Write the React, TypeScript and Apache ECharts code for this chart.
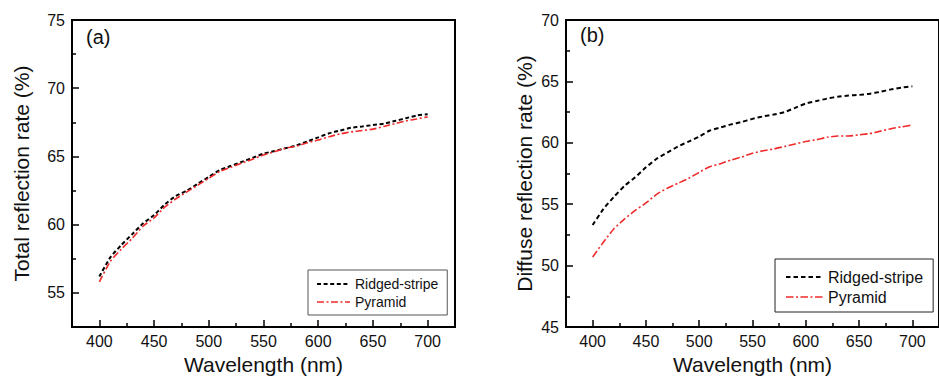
import React, { useEffect, useRef } from "react";
import * as echarts from "echarts";

const wavelengths = [400, 410, 420, 430, 440, 450, 460, 470, 480, 490, 500, 510, 520, 530, 540, 550, 560, 570, 580, 590, 600, 610, 620, 630, 640, 650, 660, 670, 680, 690, 700];

const ridgedTotal = [56.2, 57.6, 58.5, 59.3, 60.1, 60.7, 61.5, 62.1, 62.5, 63.0, 63.5, 64.0, 64.3, 64.6, 64.9, 65.2, 65.4, 65.6, 65.8, 66.1, 66.4, 66.7, 66.9, 67.1, 67.2, 67.3, 67.4, 67.6, 67.8, 68.0, 68.1];
const pyramidTotal = [55.8, 57.3, 58.2, 59.0, 59.9, 60.5, 61.3, 61.9, 62.4, 62.9, 63.4, 63.9, 64.2, 64.5, 64.8, 65.1, 65.35, 65.6, 65.75, 66.0, 66.2, 66.45, 66.65, 66.8, 66.9, 67.0, 67.2, 67.4, 67.6, 67.75, 67.9];

const ridgedDiffuse = [53.3, 54.6, 55.6, 56.5, 57.2, 58.0, 58.7, 59.2, 59.7, 60.1, 60.5, 61.0, 61.25, 61.5, 61.7, 61.95, 62.15, 62.3, 62.5, 62.85, 63.2, 63.4, 63.6, 63.75, 63.85, 63.9, 64.0, 64.15, 64.35, 64.5, 64.6];
const pyramidDiffuse = [50.7, 51.9, 53.0, 53.8, 54.5, 55.1, 55.8, 56.3, 56.7, 57.1, 57.6, 58.05, 58.3, 58.6, 58.85, 59.15, 59.35, 59.5, 59.7, 59.9, 60.1, 60.25, 60.45, 60.55, 60.55, 60.65, 60.75, 60.95, 61.15, 61.3, 61.45];

const xMajorTicks = [400, 450, 500, 550, 600, 650, 700];
const xMinorTicks = [425, 475, 525, 575, 625, 675];
const yTotalMajor = [55, 60, 65, 70, 75];
const yTotalMinor = [57.5, 62.5, 67.5, 72.5];
const yDiffuseMajor = [45, 50, 55, 60, 65, 70];
const yDiffuseMinor = [47.5, 52.5, 57.5, 62.5, 67.5];

const seriesNames = ["Ridged-stripe", "Pyramid"];
const panelLabels = ["(a)", "(b)"];
const xTitle = "Wavelength (nm)";
const yTitles = ["Total reflection rate (%)", "Diffuse reflection rate (%)"];

const FONT = "'Liberation Sans', Arial, sans-serif";
const BLACK = "#000";
const RED = "#f02a2a";
const NO_SYMBOL = { color: "rgba(0,0,0,0)", borderWidth: 0, opacity: 0 };

function pairs(vals: number[]) {
  return wavelengths.map((w, i) => [w, vals[i]]);
}

function xAxes(grid: number) {
  return [
    {
      type: "value",
      gridIndex: grid,
      min: 375,
      max: 725,
      position: "bottom",
      name: xTitle,
      nameLocation: "middle",
      nameGap: 27,
      nameTextStyle: { fontSize: 21, color: "#111", fontFamily: FONT },
      axisLine: { show: true, lineStyle: { color: BLACK, width: 2 } },
      axisTick: { show: true, inside: true, length: 7, customValues: xMajorTicks, lineStyle: { color: BLACK, width: 1.5 } },
      axisLabel: { show: true, customValues: xMajorTicks, fontSize: 16, color: "#111", fontFamily: FONT, margin: 6 },
      splitLine: { show: false },
    },
    {
      type: "value",
      gridIndex: grid,
      min: 375,
      max: 725,
      position: "bottom",
      axisLine: { show: false },
      axisTick: { show: true, inside: true, length: 4, customValues: xMinorTicks, lineStyle: { color: BLACK, width: 1.5 } },
      axisLabel: { show: false },
      splitLine: { show: false },
    },
  ];
}

function yAxes(grid: number, min: number, max: number, major: number[], minor: number[], title: string, gap: number) {
  return [
    {
      type: "value",
      gridIndex: grid,
      min,
      max,
      position: "left",
      name: title,
      nameLocation: "middle",
      nameGap: gap,
      nameTextStyle: { fontSize: 21, color: "#111", fontFamily: FONT },
      axisLine: { show: true, lineStyle: { color: BLACK, width: 2 } },
      axisTick: { show: true, inside: true, length: 7, customValues: major, lineStyle: { color: BLACK, width: 1.5 } },
      axisLabel: { show: true, customValues: major, fontSize: 16, color: "#111", fontFamily: FONT, margin: 7 },
      splitLine: { show: false },
    },
    {
      type: "value",
      gridIndex: grid,
      min,
      max,
      position: "left",
      axisLine: { show: false },
      axisTick: { show: true, inside: true, length: 4, customValues: minor, lineStyle: { color: BLACK, width: 1.5 } },
      axisLabel: { show: false },
      splitLine: { show: false },
    },
  ];
}

export default function App() {
  const ref = useRef<HTMLDivElement>(null);
  useEffect(() => {
    if (!ref.current) return;
    const chart = echarts.init(ref.current, null, { renderer: "svg" });
    const blackDashA = { color: BLACK, width: 2, type: [4, 2.6] };
    const redDashA = { color: RED, width: 1.6, type: [7, 2.5, 2, 2.5] };
    const blackDashB = { color: BLACK, width: 2, type: [4.5, 3] };
    const redDashB = { color: RED, width: 1.6, type: [7.5, 2.5, 2, 2.5] };
    chart.setOption({
      animation: false,
      backgroundColor: "#fff",
      textStyle: { fontFamily: FONT },
      grid: [
        { left: 72, top: 20, width: 383, height: 309, show: true, borderColor: BLACK, borderWidth: 2, containLabel: false },
        { left: 566, top: 20, width: 381, height: 307, show: true, borderColor: BLACK, borderWidth: 2, containLabel: false },
      ],
      xAxis: [...xAxes(0), ...xAxes(1)],
      yAxis: [
        ...yAxes(0, 52.5, 75, yTotalMajor, yTotalMinor, yTitles[0], 40),
        ...yAxes(1, 45, 70, yDiffuseMajor, yDiffuseMinor, yTitles[1], 31),
      ],
      legend: [
        {
          orient: "vertical",
          left: 308,
          top: 270,
          padding: [7, 9, 6, 8],
          itemWidth: 33,
          itemHeight: 14,
          itemGap: 4,
          borderColor: "#555",
          borderWidth: 1,
          backgroundColor: "#fff",
          textStyle: { fontSize: 14, color: "#111", fontFamily: FONT },
          selectedMode: false,
          data: [
            { name: seriesNames[0], lineStyle: blackDashA, itemStyle: NO_SYMBOL },
            { name: seriesNames[1], lineStyle: redDashA, itemStyle: NO_SYMBOL },
          ],
        },
        {
          orient: "vertical",
          left: 775,
          top: 259,
          padding: [10, 10, 7, 10],
          itemWidth: 37,
          itemHeight: 16,
          itemGap: 4,
          borderColor: "#222",
          borderWidth: 1,
          backgroundColor: "#fff",
          textStyle: { fontSize: 16, color: "#111", fontFamily: FONT },
          selectedMode: false,
          data: [
            { name: seriesNames[0], lineStyle: blackDashB, itemStyle: NO_SYMBOL },
            { name: seriesNames[1], lineStyle: redDashB, itemStyle: NO_SYMBOL },
          ],
        },
      ],
      graphic: [
        { type: "text", left: 86, top: 27, style: { text: panelLabels[0], fontSize: 20, fill: "#111", fontFamily: FONT } },
        { type: "text", left: 580, top: 25, style: { text: panelLabels[1], fontSize: 20, fill: "#111", fontFamily: FONT } },
      ],
      series: [
        { name: seriesNames[0], type: "line", xAxisIndex: 0, yAxisIndex: 0, data: pairs(ridgedTotal), symbol: "none", smooth: 0.2, lineStyle: blackDashA, itemStyle: { color: BLACK } },
        { name: seriesNames[1], type: "line", xAxisIndex: 0, yAxisIndex: 0, data: pairs(pyramidTotal), symbol: "none", smooth: 0.2, lineStyle: redDashA, itemStyle: { color: RED } },
        { name: seriesNames[0], type: "line", xAxisIndex: 2, yAxisIndex: 2, data: pairs(ridgedDiffuse), symbol: "none", smooth: 0.2, lineStyle: blackDashB, itemStyle: { color: BLACK } },
        { name: seriesNames[1], type: "line", xAxisIndex: 2, yAxisIndex: 2, data: pairs(pyramidDiffuse), symbol: "none", smooth: 0.2, lineStyle: redDashB, itemStyle: { color: RED } },
      ],
    });
    return () => chart.dispose();
  }, []);
  return <div ref={ref} style={{ position: "fixed", left: 0, top: 0, width: 939, height: 380 }} />;
}
